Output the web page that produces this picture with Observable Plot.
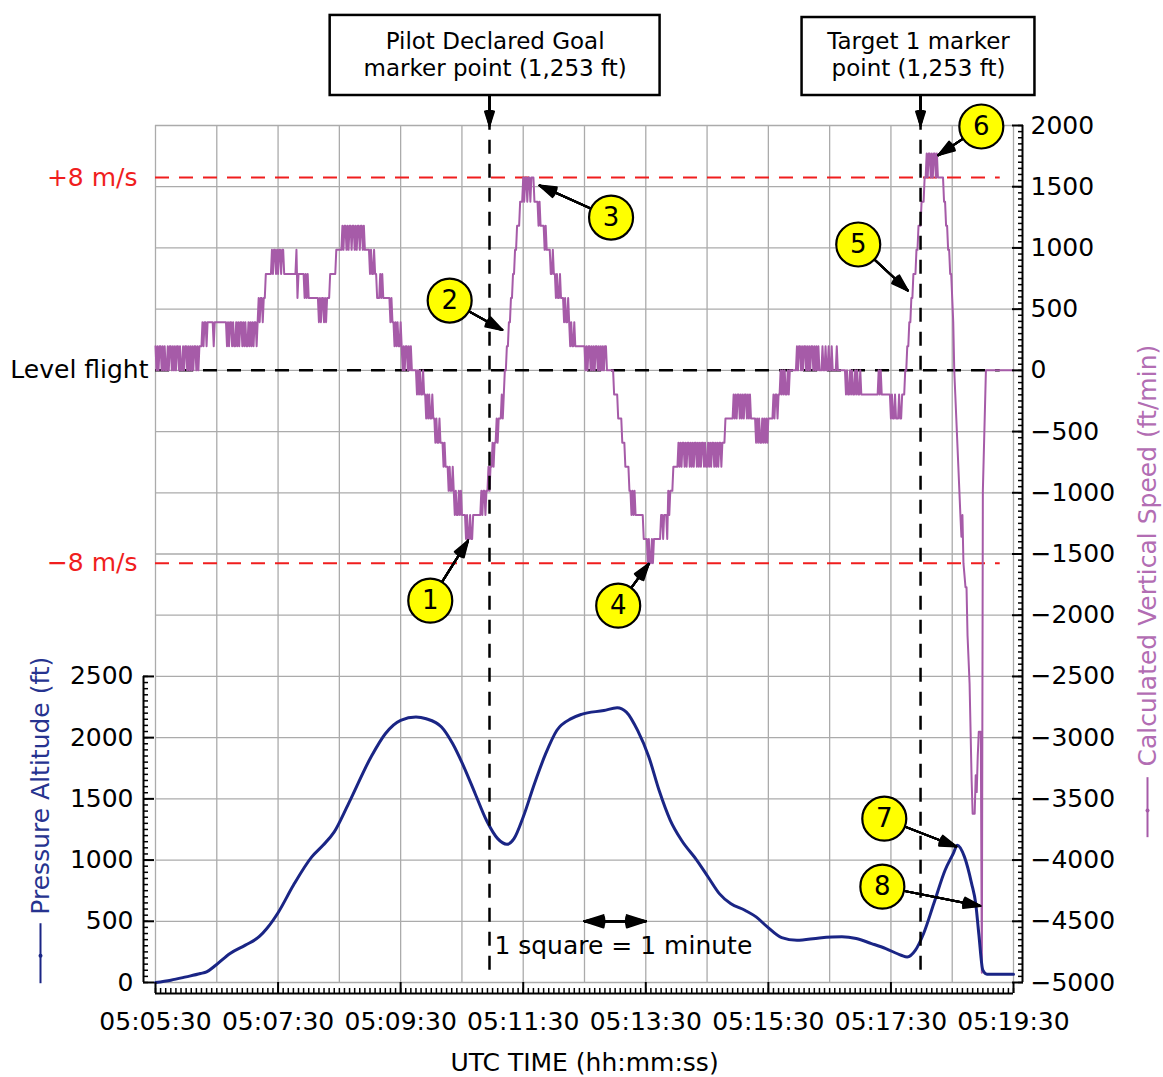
<!DOCTYPE html>
<html>
<head>
<meta charset="utf-8">
<script src="https://cdn.jsdelivr.net/npm/d3@7"></script>
<script src="https://cdn.jsdelivr.net/npm/@observablehq/plot@0.6"></script>
<style>
  html, body { margin: 0; padding: 0; background: #fff; }
  #chart svg { display: block; }
</style>
</head>
<body>
<div id="chart"></div>
<script>
// ---------------- DATA ----------------
// time in seconds after 05:05:30 UTC
const timeTickSeconds = [0, 120, 240, 360, 480, 600, 720, 840];
const timeTickLabels = ["05:05:30", "05:07:30", "05:09:30", "05:11:30", "05:13:30", "05:15:30", "05:17:30", "05:19:30"];
const vsTickValues = [2000, 1500, 1000, 500, 0, -500, -1000, -1500, -2000, -2500, -3000, -3500, -4000, -4500, -5000];
const altTickValues = [0, 500, 1000, 1500, 2000, 2500];

// Pressure altitude (ft): [seconds, feet]
const pressureAltitude = [
  [0, 0], [15, 19], [30, 46], [44, 73], [50, 87], [59, 141], [73, 237], [88, 305], [102, 378], [109, 441],
  [120, 570], [135, 794], [153, 1026], [164, 1121], [175, 1230], [189, 1461], [211, 1842], [225, 2032],
  [240, 2141], [255, 2168], [265, 2154], [280, 2087], [291, 1950], [302, 1760], [313, 1542], [324, 1325],
  [335, 1175], [344, 1129], [351, 1175], [360, 1352], [371, 1624], [382, 1869], [393, 2060], [407, 2155],
  [417, 2190], [439, 2222], [452, 2244], [461, 2209], [472, 2059], [483, 1842], [493, 1570], [504, 1325],
  [515, 1162], [530, 998], [541, 862], [552, 726], [563, 645], [577, 590], [588, 536], [599, 454],
  [613, 367], [628, 345], [650, 364], [672, 373], [686, 359], [701, 318], [715, 277], [730, 223],
  [736, 209], [744, 264], [752, 400], [762, 645], [773, 917], [781, 1053], [785, 1121], [792, 1026],
  [799, 808], [803, 645], [806, 400], [810, 101], [814, 68], [840, 68]
];

// Calculated vertical speed in m/s, one value per second: [start second, values]
const verticalSpeedMs = [
  [0,   [1,0,1,0,1,1,0,1,0,1, 0,0,1,0,1,1,0,1,0,1, 0,1,1,0,1,0,0,1,0,1, 1,0,1,0,1,0,1,0,1,1, 0,1,0]],
  [43,  [1,1,1, 2,1,2,2,1,2, 2,2,2,2,2, 1,2,2]],
  [60,  [2,2,2,2,2,2,2,2,2,2, 1,2,1,2,2,1,2,1,1,2, 1,2,1,2,2,1,2,1,2,1, 1,2,1,2,1,2,1,2,2,1]],
  [100, [2, 3,2,3,3,2,3,3, 4,4,4,4,4,4, 5,4,5,5,4,5,4,5,5,4,5,5, 4,4,4,4,4,4,4,4,4,4,4,4]],
  [138, [5,3, 4,4,4,4,4,4, 3,4,3,4, 3,3,3,3,3,3,3,3,3,3, 2,3,2,3,3,2,3,2,3, 3,3]],
  [171, [4,4,4,4,4,4, 5,5,5,5,5,5, 6,5,6,6,5,6,5,6,6,5,6,6,5,6,5,6,6,5,6,6,5,6, 5,5,5,5,5, 4,5,4,4,5,4,4]],
  [217, [3,3,3,4,3,4,3,3,3,3,3,3,3, 2,3,2,2, 1,2,1,2,1,1,2,1, 0,1,0,1,1,0,1,0,1,0, 0,0,0,0]],
  [256, [-1,0,-1,0,-1,-1,0,-1,-1, -2,-1,-2,-1,-2,-2,-1,-2,-2, -3,-2,-3,-3,-2,-3,-3,-3, -4,-3,-4,-4,-4, -5,-4,-5,-5,-4,-5, -6,-5,-6,-6,-5,-6,-5,-6,-6,-6,-6]],
  [304, [-7,-6,-7,-7,-6,-7,-7,-6, -6,-6,-6,-6,-6,-6,-6, -5,-6,-5,-5,-6,-5,-5, -4,-5,-4,-4, -3,-4,-3,-3, -2,-3,-2,-2,-2, -1,-2,-1]],
  [342, [0,0,1,1,2,2,3,3,4,4,5,5,6,6,6,7,7,7, 8,7,8,8,7,8,8,7,8,8,8,7]],
  [372, [7,7,7, 6,7,6,6,6,6, 5,6,5,5,5,5, 4,4,5,4,4, 3,4,3,3,4,3,3,3, 2,3,2,2,3,2, 1,2,1,1,2,1,1,1,1,1,1,1,1,1,1, 0,1,0,1,1,0,1,0,1,0,1,1,0,1,0,1,0,1,0,1,1, 0,0,0,0,0,0,0]],
  [449, [-1,-1,-1,-1, -2,-2,-2,-2, -3,-3,-3, -4,-4,-4,-4, -5,-5,-6,-5, -6,-5,-6,-6,-6,-6,-6,-6,-6,-6, -7,-7,-7,-7, -8,-7,-8,-8,-7,-8,-7,-7, -7,-7,-7,-7,-7, -6,-6,-7,-6,-6,-6,-7, -5,-6,-5,-5,-5, -4,-4,-4,-4,-4]],
  [512, [-3,-4,-3,-4,-3,-3,-4,-3,-4,-3, -3,-4,-3,-4,-3,-4,-3,-3,-4,-3, -4,-3,-4,-3,-3,-4,-3,-4,-4,-3, -4,-3,-4,-3,-3,-4,-3,-4,-3,-4, -3,-3,-4,-3]],
  [556, [-3,-3, -2,-2,-2,-2,-2,-2,-2,-2, -1,-2,-1,-2,-1,-1,-2,-1,-2,-1,-2,-1,-1,-2,-1,-2,-1,-2, -2,-2,-2,-2, -3,-2,-3,-2,-3,-3,-2,-3,-2,-3,-2,-3,-2, -2,-2,-2,-2, -1,-2,-1,-1,-2,-1,-1, 0,-1,0,-1,0,-1,-1,0,-1,0, 0,0,0,0,0,0, 1,0,1]],
  [631, [1,0,1,0,1,1,0,1,0,1,0,1,1,0,1,0,1, 0,1,0,0,0,1,0,0,1,0,0,1,0,0,1,0,0,0,0,1,0, 0,0,0,0]],
  [673, [0,0,0, -1,0,-1,-1,0,-1,0,-1,-1,0,-1,0,-1,-1,0,-1, -1,-1,-1,-1,-1,-1,-1,-1,-1,-1,-1,-1,-1,-1,-1,-1, 0,-1,0, -1,-1,-1,-1,-1,-1,-1,-1,-1, -2,-1,-2,-2,-1,-2,-2,-2,-1,-2,-2, -1,-1,-1]],
  [734, [0,0,1,1,2,2,3,3,4,4,4,5,5,6,6,6,7,7,7,8,8, 9,8,9,9,8,9,8,9,9,8,9, 8,8,8,8,8,8, 7,7,6,6,5,5, 4,4,3,2,0,-1]],
  [784, [-2,-3,-4,-5,-6,-6.9,-6,-8,-8.5,-9,-9,-11,-12,-13,-15,-17,-18.4,-18.4,-18.4,-16.8,-17.5,-16,-15,-15,-15,-25,-5]],
  [813, [0]],
  [840, [0]]
];

const ftPerMinPerMs = 196.85;
const limitMs = 8;
const goalMarkerSecond = 327;
const targetMarkerSecond = 749;

// ---------------- ANNOTATIONS ----------------
const callouts = [
  {n: "1", cx: 269, cy: -1881, tx: 306, ty: -1391},
  {n: "2", cx: 288, cy: 570, tx: 339.5, ty: 330},
  {n: "3", cx: 446, cy: 1248, tx: 376, ty: 1510},
  {n: "4", cx: 453, cy: -1922, tx: 483, ty: -1580},
  {n: "5", cx: 688, cy: 1028, tx: 736.5, ty: 652},
  {n: "6", cx: 808.5, cy: 1992, tx: 766.5, ty: 1758},
  {n: "7", cx: 713.5, cy: -3662, tx: 784, ty: -3890},
  {n: "8", cx: 711.6, cy: -4217, tx: 807.5, ty: -4375}
];
const markerBoxes = [
  {line1: "Pilot Declared Goal", line2: "marker point (1,253 ft)", t: goalMarkerSecond, x1: 171, x2: 494, y1: 2245, y2: 2899},
  {line1: "Target 1 marker", line2: "point (1,253 ft)", t: targetMarkerSecond, x1: 633, x2: 861, y1: 2245, y2: 2882}
];

// ---------------- BUILD ----------------
const vsPoints = verticalSpeedMs.flatMap(([start, values]) =>
  values.map((ms, i) => ({t: start + i, v: ms * ftPerMinPerMs})));
const altPoints = pressureAltitude.map(([t, ft]) => ({t, ft}));
const altOffset = -5000; // 0 ft altitude sits on the -5000 ft/min line

const purple = "#a65ba8";
const navy = "#1a2585";
const red = "#f01e1e";
const gridColor = "#ababab";
const font = "DejaVu Sans";

function filledArrow(data, opts) {
  const angles = [0, 7, 14, 21, 28, 36];
  return angles.map(a => Plot.arrow(data, {stroke: "black", strokeWidth: 2, headAngle: a, ...opts}));
}
const fmtVs = d => d < 0 ? "\u2212" + (-d) : String(d);

const chart = Plot.plot({
  width: 1163,
  height: 1077,
  marginLeft: 155,
  marginRight: 150,
  marginTop: 125,
  marginBottom: 95,
  style: {fontFamily: font, fontSize: "25px", background: "white", overflow: "visible"},
  x: {domain: [0, 840], axis: null, label: null},
  y: {domain: [-5000, 2000], axis: null, label: null},
  marks: [
    // grid
    Plot.gridX(d3.range(0, 841, 60), {stroke: gridColor, strokeOpacity: 1, strokeWidth: 1.3}),
    Plot.gridY(d3.range(-5000, 2001, 500), {stroke: gridColor, strokeOpacity: 1, strokeWidth: 1.3}),
    // reference lines
    Plot.ruleY([limitMs * ftPerMinPerMs, -limitMs * ftPerMinPerMs], {x1: 0, x2: 827, stroke: red, strokeWidth: 2, strokeDasharray: "14,10"}),
    Plot.ruleY([0], {x1: 0, x2: 827, stroke: "black", strokeWidth: 2.5, strokeDasharray: "14,10"}),
    // series
    Plot.line(vsPoints, {x: "t", y: "v", stroke: purple, strokeWidth: 2}),
    Plot.line(altPoints, {x: "t", y: d => d.ft + altOffset, stroke: navy, strokeWidth: 3, curve: "monotone-x"}),
    // marker verticals
    Plot.ruleX([goalMarkerSecond, targetMarkerSecond], {y1: -4900, y2: 2000, stroke: "black", strokeWidth: 2.5, strokeDasharray: "14,10"}),
    ...filledArrow(markerBoxes, {x1: "t", y1: 2560, x2: "t", y2: 2000, headLength: 11}),
    Plot.rect(markerBoxes, {x1: "x1", x2: "x2", y1: "y1", y2: "y2", fill: "white", stroke: "black", strokeWidth: 2.5}),
    Plot.text(markerBoxes, {x: d => (d.x1 + d.x2) / 2, y: 2686, text: "line1", fontSize: 23, fill: "black"}),
    Plot.text(markerBoxes, {x: d => (d.x1 + d.x2) / 2, y: 2463, text: "line2", fontSize: 23, fill: "black"}),
    // left labels
    Plot.text(["+8 m/s"], {x: 0, y: limitMs * ftPerMinPerMs, dx: -18, textAnchor: "end", fill: red, fontSize: 25}),
    Plot.text(["\u22128 m/s"], {x: 0, y: -limitMs * ftPerMinPerMs, dx: -18, textAnchor: "end", fill: red, fontSize: 25}),
    Plot.text(["Level flight"], {x: 0, y: 0, dx: -7, textAnchor: "end", fill: "black", fontSize: 25}),
    // scale note
    ...filledArrow([{a: 420, b: 480}, {a: 480, b: 420}], {x1: "a", x2: "b", y1: -4500, y2: -4500, headLength: 15}),
    Plot.text(["1 square = 1 minute"], {x: 458, y: -4700, fill: "black", fontSize: 25}),
    // callouts
    ...filledArrow(callouts, {x1: "cx", y1: "cy", x2: "tx", y2: "ty", headLength: 13}),
    Plot.dot(callouts, {x: "cx", y: "cy", r: 22, fill: "#ffff00", stroke: "black", strokeWidth: 2.2}),
    Plot.text(callouts, {x: "cx", y: "cy", text: "n", fontSize: 26, fill: "black"}),
    // bottom axis
    Plot.ruleY([-5000], {dy: 11, stroke: "black", strokeWidth: 2}),
    Plot.axisX(d3.range(0, 841, 5), {anchor: "bottom", tickSize: -5, dy: 11, tickFormat: () => "", label: null, strokeWidth: 1.5}),
    Plot.axisX(timeTickSeconds, {anchor: "bottom", tickSize: -11, dy: 11, tickFormat: () => "", label: null, strokeWidth: 2}),
    Plot.axisX(timeTickSeconds, {anchor: "bottom", tickSize: 0, tickPadding: 30, tickFormat: d => timeTickLabels[timeTickSeconds.indexOf(d)], label: null, fontSize: 25}),
    Plot.text(["UTC TIME (hh:mm:ss)"], {frameAnchor: "bottom", dy: 88, fill: "black", fontSize: 25}),
    // right axis (vertical speed)
    Plot.ruleX([840], {dx: 9, stroke: "black", strokeWidth: 2}),
    Plot.axisY(d3.range(-5000, 2001, 50), {anchor: "right", tickSize: -5, dx: 9, tickFormat: () => "", label: null, strokeWidth: 1.5}),
    Plot.axisY(vsTickValues, {anchor: "right", tickSize: -11, dx: 9, tickFormat: () => "", label: null, strokeWidth: 2}),
    Plot.axisY(vsTickValues, {anchor: "right", tickSize: 0, tickPadding: 17, tickFormat: fmtVs, label: null, fontSize: 25}),
    Plot.text(["Calculated Vertical Speed (ft/min)"], {frameAnchor: "right", y: -1513, dx: 134, rotate: -90, textAnchor: "middle", fill: "#b26db3", fontSize: 25}),
    Plot.ruleX([840], {y1: -3327, y2: -3817, dx: 134, stroke: purple, strokeWidth: 2}),
    Plot.dot([840], {x: d => d, y: -3596, dx: 134, r: 2, fill: purple}),
    // left axis (pressure altitude)
    Plot.ruleX([0], {y1: altOffset, y2: altOffset + 2500, dx: -12, stroke: "black", strokeWidth: 2}),
    Plot.axisY(d3.range(0, 2501, 50).map(a => a + altOffset), {anchor: "left", tickSize: -5, dx: -12, tickFormat: () => "", label: null, strokeWidth: 1.5}),
    Plot.axisY(altTickValues.map(a => a + altOffset), {anchor: "left", tickSize: -11, dx: -12, tickFormat: () => "", label: null, strokeWidth: 2}),
    Plot.axisY(altTickValues.map(a => a + altOffset), {anchor: "left", tickSize: 0, tickPadding: 22, tickFormat: d => String(d - altOffset), label: null, fontSize: 25}),
    Plot.text(["Pressure Altitude (ft)"], {frameAnchor: "left", y: -3392, dx: -115, rotate: -90, textAnchor: "middle", fill: "#26338f", fontSize: 25}),
    Plot.ruleX([0], {y1: -4520, y2: -5010, dx: -115, stroke: navy, strokeWidth: 2}),
    Plot.dot([0], {x: d => d, y: -4781, dx: -115, r: 2, fill: navy})
  ]
});
document.getElementById("chart").appendChild(chart);
</script>
</body>
</html>
